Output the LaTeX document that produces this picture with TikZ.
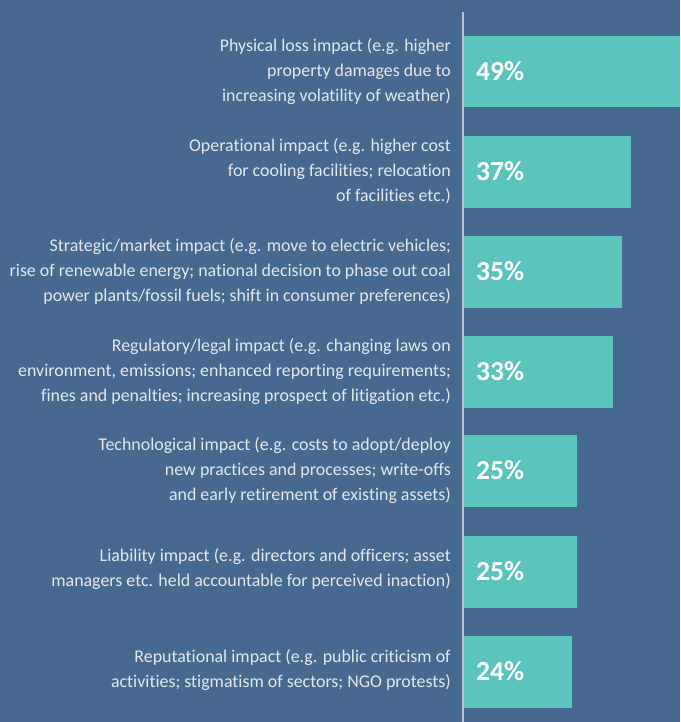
\documentclass[tikz,border=0pt]{standalone}
\usepackage{fontspec}
\setmainfont{Carlito}[Ligatures=NoCommon]
\definecolor{bg}{HTML}{48698F}
\definecolor{barc}{HTML}{5BC4BC}
\definecolor{txt}{HTML}{E4E8EE}
\definecolor{axisc}{HTML}{B8C4D4}
\begin{document}
\begin{tikzpicture}[x=1pt,y=-1pt,
  lbl/.style={anchor=east,align=right,text=txt,inner sep=0pt,font=\fontsize{17.9}{25}\selectfont},
  pct/.style={anchor=west,text=white,inner sep=0pt,font=\fontsize{27.5}{28}\selectfont\bfseries},
  barbox/.style={fill=barc,draw=none}]
\fill[bg] (0,0) rectangle (680,722);
\useasboundingbox (0,0) rectangle (680,722);
\draw[axisc,line width=1.5pt] (463,12) coordinate (axtop) -- (463,722) coordinate (axbot);
% bars
\path[barbox] (464,36) rectangle (680,107.5);
\path[barbox] (464,136) rectangle (631,207.5);
\path[barbox] (464,236) rectangle (622,307.5);
\path[barbox] (464,336) rectangle (613,407.5);
\path[barbox] (464,435) rectangle (577,506.5);
\path[barbox] (464,536) rectangle (577,607.5);
\path[barbox] (464,636) rectangle (572,707.5);
% percentages
\node[pct] (p1) at (476,71.5) {49\%};
\node[pct] (p2) at (476,171.5) {37\%};
\node[pct] (p3) at (476,271.5) {35\%};
\node[pct] (p4) at (476,371.5) {33\%};
\node[pct] (p5) at (476,470.5) {25\%};
\node[pct] (p6) at (476,571.5) {25\%};
\node[pct] (p7) at (476,671.5) {24\%};
% labels
\node[lbl] (l1) at (451,71.5) {Physical loss impact (e.g. higher\\property damages due to\\increasing volatility of weather)};
\node[lbl] (l2) at (451,171.5) {Operational impact (e.g. higher cost\\for cooling facilities; relocation\\of facilities etc.)};
\node[lbl] (l3) at (451,271.5) {Strategic/market impact (e.g. move to electric vehicles;\\rise of renewable energy; national decision to phase out coal\\power plants/fossil fuels; shift in consumer preferences)};
\node[lbl] (l4) at (451,371.5) {Regulatory/legal impact (e.g. changing laws on\\environment, emissions; enhanced reporting requirements;\\fines and penalties; increasing prospect of litigation etc.)};
\node[lbl] (l5) at (451,470.5) {Technological impact (e.g. costs to adopt/deploy\\new practices and processes; write-offs\\and early retirement of existing assets)};
\node[lbl] (l6) at (451,569) {Liability impact (e.g. directors and officers; asset\\managers etc. held accountable for perceived inaction)};
\node[lbl] (l7) at (451,670) {Reputational impact (e.g. public criticism of\\activities; stigmatism of sectors; NGO protests)};
\end{tikzpicture}
\end{document}
